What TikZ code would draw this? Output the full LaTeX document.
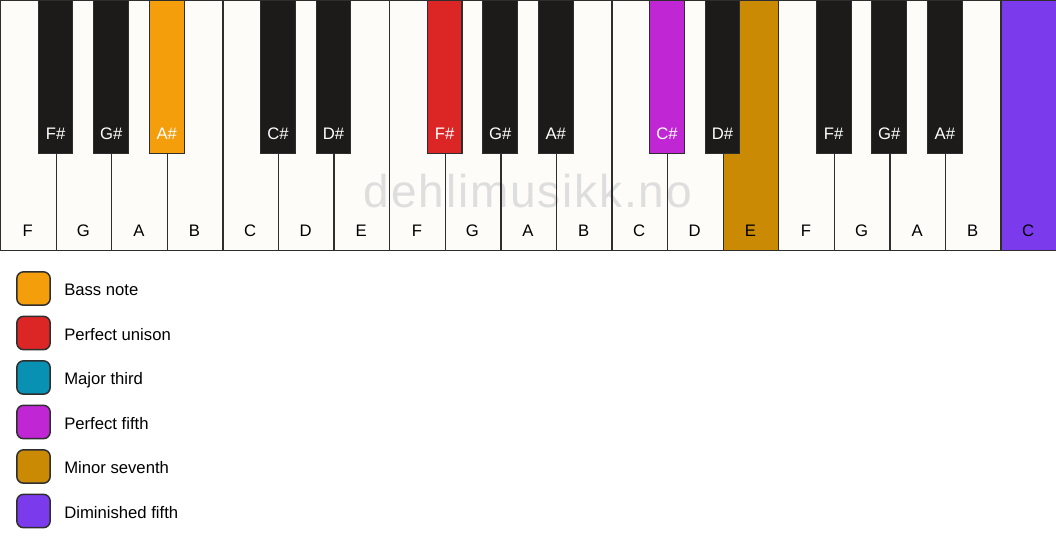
\documentclass[tikz,border=0pt]{standalone}
\usepackage{fontspec}
\setmainfont{Liberation Sans}
\usetikzlibrary{positioning}

\definecolor{ivory}{HTML}{FDFCF9}
\definecolor{keyblack}{HTML}{1C1B19}
\definecolor{keyline}{HTML}{2E2E2E}
\definecolor{stamp}{HTML}{DEDEDE}
\definecolor{bassnote}{HTML}{F59E0B}
\definecolor{unison}{HTML}{DC2626}
\definecolor{majthird}{HTML}{0891B2}
\definecolor{perffifth}{HTML}{C026D3}
\definecolor{minseventh}{HTML}{CA8A04}
\definecolor{dimfifth}{HTML}{7C3AED}

\newcommand{\kw}{55.58}

\tikzset{
  whitekey/.style={draw=keyline, line width=1pt, minimum width=41.685pt,
    minimum height=187.5pt, anchor=north west, inner sep=0pt},
  blackkey/.style={draw=keyline, line width=0.8pt, fill=keyblack,
    minimum width=26pt, minimum height=114.75pt, anchor=north, inner sep=0pt},
  whitename/.style={font=\fontsize{12.5}{14}\selectfont, text=black, anchor=base, inner sep=0pt},
  blackname/.style={font=\fontsize{12.5}{14}\selectfont, text=white, anchor=base, inner sep=0pt},
  swatch/.style={draw=keyline, line width=1.1pt, rounded corners=5pt,
    minimum size=25pt, inner sep=0pt},
  legendtext/.style={font=\fontsize{12.5}{14}\selectfont, anchor=base west, inner sep=0pt},
}

\begin{document}
\begin{tikzpicture}[x=0.75pt, y=-0.75pt]

          \useasboundingbox[fill=white] (0,0) rectangle (1056,550);
          \fill[ivory] (0,0) rectangle (1056,250);

          % watermark
          \node[text=stamp, anchor=base, inner sep=0pt,
                font=\fontsize{34.5}{40}\selectfont\addfontfeature{LetterSpace=4}]
                (stampmark) at (528,207.5) {dehlimusikk.no};

          % white keys
          \node[whitekey] (wF1) at ({0*\kw},0) {};
          \node[whitekey] (wG1) at ({1*\kw},0) {};
          \node[whitekey] (wA1) at ({2*\kw},0) {};
          \node[whitekey] (wB1) at ({3*\kw},0) {};
          \node[whitekey] (wC1) at ({4*\kw},0) {};
          \node[whitekey] (wD1) at ({5*\kw},0) {};
          \node[whitekey] (wE1) at ({6*\kw},0) {};
          \node[whitekey] (wF2) at ({7*\kw},0) {};
          \node[whitekey] (wG2) at ({8*\kw},0) {};
          \node[whitekey] (wA2) at ({9*\kw},0) {};
          \node[whitekey] (wB2) at ({10*\kw},0) {};
          \node[whitekey] (wC2) at ({11*\kw},0) {};
          \node[whitekey] (wD2) at ({12*\kw},0) {};
          \node[whitekey, fill=minseventh] (wE2) at ({13*\kw},0) {};
          \node[whitekey] (wF3) at ({14*\kw},0) {};
          \node[whitekey] (wG3) at ({15*\kw},0) {};
          \node[whitekey] (wA3) at ({16*\kw},0) {};
          \node[whitekey] (wB3) at ({17*\kw},0) {};
          \node[whitekey, fill=dimfifth] (wC3) at ({18*\kw},0) {};

          \node[whitename] (nF1) at ({0.5*\kw},236) {F};
          \node[whitename] (nG1) at ({1.5*\kw},236) {G};
          \node[whitename] (nA1) at ({2.5*\kw},236) {A};
          \node[whitename] (nB1) at ({3.5*\kw},236) {B};
          \node[whitename] (nC1) at ({4.5*\kw},236) {C};
          \node[whitename] (nD1) at ({5.5*\kw},236) {D};
          \node[whitename] (nE1) at ({6.5*\kw},236) {E};
          \node[whitename] (nF2) at ({7.5*\kw},236) {F};
          \node[whitename] (nG2) at ({8.5*\kw},236) {G};
          \node[whitename] (nA2) at ({9.5*\kw},236) {A};
          \node[whitename] (nB2) at ({10.5*\kw},236) {B};
          \node[whitename] (nC2) at ({11.5*\kw},236) {C};
          \node[whitename] (nD2) at ({12.5*\kw},236) {D};
          \node[whitename] (nE2) at ({13.5*\kw},236) {E};
          \node[whitename] (nF3) at ({14.5*\kw},236) {F};
          \node[whitename] (nG3) at ({15.5*\kw},236) {G};
          \node[whitename] (nA3) at ({16.5*\kw},236) {A};
          \node[whitename] (nB3) at ({17.5*\kw},236) {B};
          \node[whitename] (nC3) at ({18.5*\kw},236) {C};

          % black keys
          \node[blackkey] (bFs1) at ({1*\kw},0) {};
          \node[blackkey] (bGs1) at ({2*\kw},0) {};
          \node[blackkey, fill=bassnote] (bAs1) at ({3*\kw},0) {};
          \node[blackkey] (bCs1) at ({5*\kw},0) {};
          \node[blackkey] (bDs1) at ({6*\kw},0) {};
          \node[blackkey, fill=unison] (bFs2) at ({8*\kw},0) {};
          \node[blackkey] (bGs2) at ({9*\kw},0) {};
          \node[blackkey] (bAs2) at ({10*\kw},0) {};
          \node[blackkey, fill=perffifth] (bCs2) at ({12*\kw},0) {};
          \node[blackkey] (bDs2) at ({13*\kw},0) {};
          \node[blackkey] (bFs3) at ({15*\kw},0) {};
          \node[blackkey] (bGs3) at ({16*\kw},0) {};
          \node[blackkey] (bAs3) at ({17*\kw},0) {};

          \node[blackname] (nFs1) at ({1*\kw},139) {F\#};
          \node[blackname] (nGs1) at ({2*\kw},139) {G\#};
          \node[blackname] (nAs1) at ({3*\kw},139) {A\#};
          \node[blackname] (nCs1) at ({5*\kw},139) {C\#};
          \node[blackname] (nDs1) at ({6*\kw},139) {D\#};
          \node[blackname] (nFs2) at ({8*\kw},139) {F\#};
          \node[blackname] (nGs2) at ({9*\kw},139) {G\#};
          \node[blackname] (nAs2) at ({10*\kw},139) {A\#};
          \node[blackname] (nCs2) at ({12*\kw},139) {C\#};
          \node[blackname] (nDs2) at ({13*\kw},139) {D\#};
          \node[blackname] (nFs3) at ({15*\kw},139) {F\#};
          \node[blackname] (nGs3) at ({16*\kw},139) {G\#};
          \node[blackname] (nAs3) at ({17*\kw},139) {A\#};

          % legend
          \node[swatch, fill=bassnote] (sBass) at (33.5,288.5) {};
          \node[swatch, fill=unison] (sUnison) at (33.5,333) {};
          \node[swatch, fill=majthird] (sThird) at (33.5,377.5) {};
          \node[swatch, fill=perffifth] (sFifth) at (33.5,422) {};
          \node[swatch, fill=minseventh] (sSeventh) at (33.5,466.5) {};
          \node[swatch, fill=dimfifth] (sDim) at (33.5,511) {};

          \node[legendtext] (tBass) at (64,295.5) {Bass note};
          \node[legendtext] (tUnison) at (64,340) {Perfect unison};
          \node[legendtext] (tThird) at (64,384.5) {Major third};
          \node[legendtext] (tFifth) at (64,429) {Perfect fifth};
          \node[legendtext] (tSeventh) at (64,473.5) {Minor seventh};
          \node[legendtext] (tDim) at (64,518) {Diminished fifth};
      \end{tikzpicture}
\end{document}
